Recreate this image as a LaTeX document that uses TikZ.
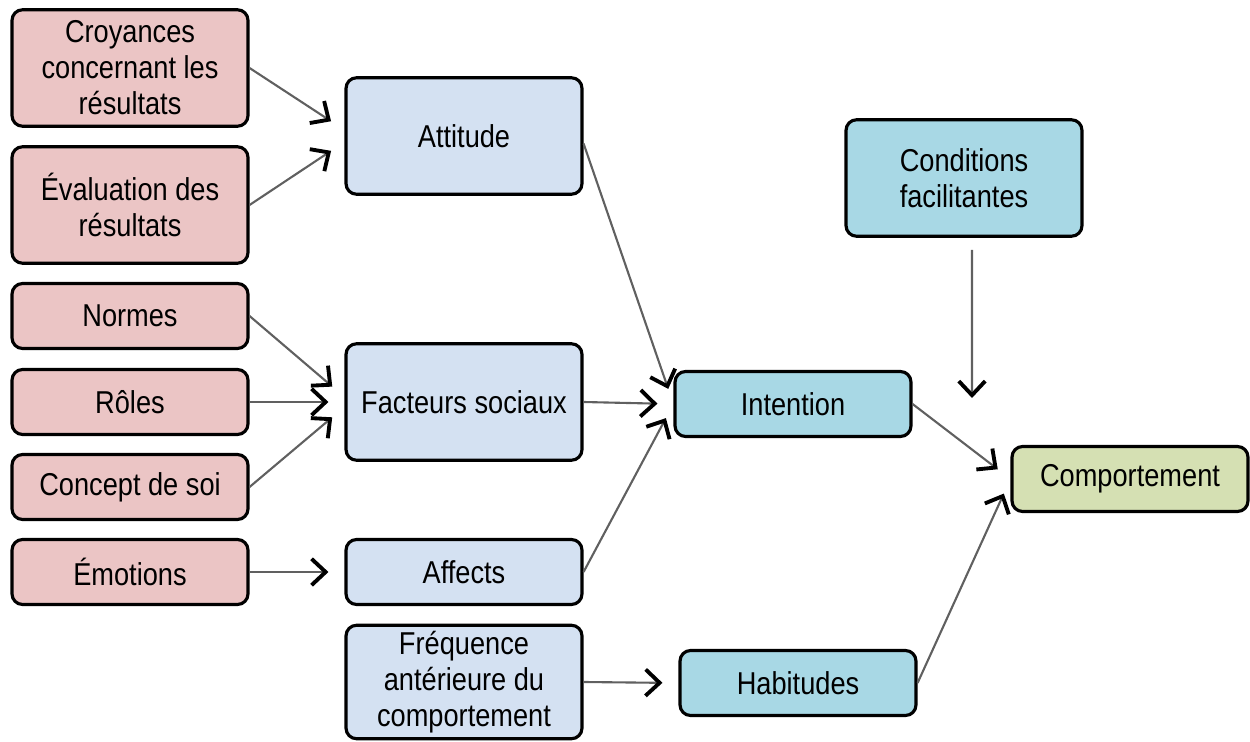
\documentclass[tikz,border=0pt]{standalone}
\usepackage{fontspec}
\setmainfont{Liberation Sans}[FakeStretch=0.86]
\usepackage{tikz}
\usetikzlibrary{calc,arrows.meta,positioning}
\definecolor{CauseFill}{HTML}{EBC5C5}
\definecolor{FactFill}{HTML}{D4E1F2}
\definecolor{MidFill}{HTML}{A8D8E5}
\definecolor{OutFill}{HTML}{D5E0B3}
\definecolor{ArrGray}{HTML}{606060}

\begin{document}
\begin{tikzpicture}[x=0.02cm,y=-0.02cm,
  box/.style={draw=black, line width=1.8pt, rounded corners=6pt, align=center,
    minimum width=4.72cm, font=\fontsize{18}{20.5}\selectfont, inner sep=2pt},
  cause/.style={box, fill=CauseFill},
  fact/.style={box, fill=FactFill},
  mid/.style={box, fill=MidFill},
  result/.style={box, fill=OutFill},
  tall/.style={minimum height=2.33cm},
  short/.style={minimum height=1.3cm},
  arr/.style={ArrGray, line width=1.2pt, shorten >=0.32cm,
    -{Straight Barb[length=8pt,width=15pt,line width=2.2pt,color=black]}}]
  \useasboundingbox (0,0) rectangle (1250,742);
  % left column
  \node[cause,tall]  (croy) at (130,68)  {Croyances\\concernant les\\résultats};
  \node[cause,tall]  (eval) at (130,205) {Évaluation des\\résultats};
  \node[cause,short] (norm) at (130,316) {Normes};
  \node[cause,short] (role) at (130,402) {Rôles};
  \node[cause,short] (conc) at (130,487) {Concept de soi};
  \node[cause,short] (emot) at (130,572) {Émotions};
  % middle column
  \node[fact,tall]  (att) at (464,136) {Attitude};
  \node[fact,tall]  (fac) at (464,402) {Facteurs sociaux};
  \node[fact,short] (aff) at (464,572) {Affects};
  \node[fact,tall,minimum height=2.27cm] (freq) at (464,682) {Fréquence\\antérieure du\\comportement};
  % right part
  \node[mid,short] (int) at (793,404) {Intention};
  \node[mid,short] (hab) at (798,683) {Habitudes};
  \node[mid,tall]  (cond) at (964,178) {Conditions\\facilitantes};
  \node[result,short] (comp) at (1130,479) {Comportement};
  \coordinate (condtip) at (972,398);
  % arrows
  \draw[arr] (croy.east) -- ([yshift=0.12cm]att.west);
  \draw[arr] (eval.east) -- ([yshift=-0.12cm]att.west);
  \draw[arr] (norm.east) -- ([yshift=0.1cm]fac.west);
  \draw[arr] (role.east) -- (fac.west);
  \draw[arr] (conc.east) -- ([yshift=-0.1cm]fac.west);
  \draw[arr] (emot.east) -- (aff.west);
  \draw[arr] ([yshift=-0.15cm]att.east) -- (int.west);
  \draw[arr] (fac.east) -- (int.west);
  \draw[arr] (aff.east) -- (int.west);
  \draw[arr] (freq.east) -- (hab.west);
  \draw[arr,shorten >=0pt] ([xshift=0.16cm,yshift=-0.24cm]cond.south) -- (condtip);
  \draw[arr] (int.east) -- (comp.west);
  \draw[arr] (hab.east) -- (comp.west);
\end{tikzpicture}
\end{document}
